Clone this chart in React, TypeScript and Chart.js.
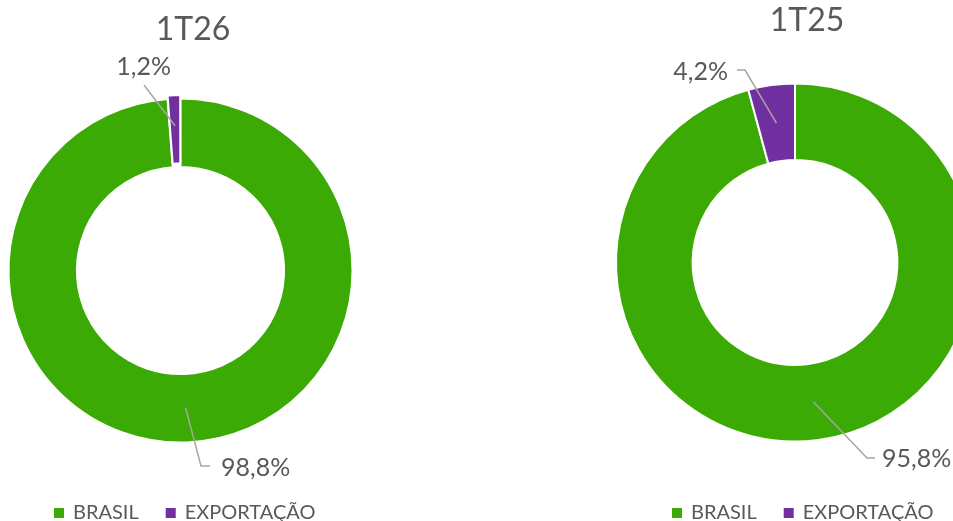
import React, { useEffect, useRef } from "react";
import { Chart, registerables } from "chart.js";

Chart.register(...registerables);

// ---- data ----
const categories = ["BRASIL", "EXPORTAÇÃO"];
const chartTitles = ["1T26", "1T25"];
const values1T26 = [98.8, 1.2];
const values1T25 = [95.8, 4.2];

// ---- styles ----
const COLORS = ["#3CAA04", "#7030A0"];
const TEXT = "#595959";
const LEADER = "#A6A6A6";
const FONT = "Lato, 'Open Sans', sans-serif";

type LabelLayout = {
  path: [number, number][];
  textX: number;
  textY: number;
  align: CanvasTextAlign;
};

type PanelCfg = {
  title: string;
  values: number[];
  left: number;
  width: number;
  padding: { left: number; right: number; top: number; bottom: number };
  radius: number;
  cutout: number;
  offsets: number[];
  titleX: number;
  titleY: number;
  labels: LabelLayout[];
  legendX: number;
  legendY: number;
};

const panels: PanelCfg[] = [
  {
    title: chartTitles[0],
    values: values1T26,
    left: 0,
    width: 380,
    padding: { left: 0, right: 19, top: 20, bottom: 0 },
    radius: 172,
    cutout: 106,
    offsets: [0, 7],
    titleX: 193,
    titleY: 40,
    labels: [
      { path: [[201, 466], [210, 466]], textX: 221, textY: 476, align: "left" },
      { path: [[144, 85]], textX: 171, textY: 75, align: "right" },
    ],
    legendX: 54,
    legendY: 519,
  },
  {
    title: chartTitles[1],
    values: values1T25,
    left: 600,
    width: 400,
    padding: { left: 0, right: 10, top: 4, bottom: 0 },
    radius: 179,
    cutout: 111,
    offsets: [0, 0],
    titleX: 207,
    titleY: 31,
    labels: [
      { path: [[267, 458], [275, 458]], textX: 282, textY: 467, align: "left" },
      { path: [[145, 70], [137, 70]], textX: 128, textY: 80, align: "right" },
    ],
    legendX: 72,
    legendY: 519,
  },
];

const fmt = (v: number) => v.toFixed(1).replace(".", ",") + "%";

function makeOverlay(cfg: PanelCfg) {
  return {
    id: "overlay_" + cfg.title,
    afterDraw(chart: any) {
      const ctx = chart.ctx as CanvasRenderingContext2D;
      ctx.save();
      ctx.fillStyle = TEXT;
      ctx.font = `32px ${FONT}`;
      ctx.textAlign = "center";
      ctx.textBaseline = "alphabetic";
      ctx.fillText(cfg.title, cfg.titleX, cfg.titleY);

      const meta = chart.getDatasetMeta(0);
      meta.data.forEach((arc: any, i: number) => {
        const p = arc.getProps(["x", "y", "startAngle", "endAngle", "innerRadius", "outerRadius"], true);
        const mid = (p.startAngle + p.endAngle) / 2;
        const r = (p.innerRadius + p.outerRadius) / 2 + (cfg.offsets[i] || 0);
        const sx = p.x + Math.cos(mid) * r;
        const sy = p.y + Math.sin(mid) * r;
        const lay = cfg.labels[i];
        ctx.strokeStyle = LEADER;
        ctx.lineWidth = 1.5;
        ctx.beginPath();
        ctx.moveTo(sx, sy);
        lay.path.forEach(([x, y]) => ctx.lineTo(x, y));
        ctx.stroke();
        ctx.fillStyle = TEXT;
        ctx.font = `25px ${FONT}`;
        ctx.textAlign = lay.align;
        ctx.textBaseline = "alphabetic";
        ctx.fillText(fmt(cfg.values[i]), lay.textX, lay.textY);
      });

      ctx.font = `20px ${FONT}`;
      ctx.textAlign = "left";
      let x = cfg.legendX;
      categories.forEach((c, i) => {
        ctx.fillStyle = COLORS[i];
        ctx.fillRect(x, cfg.legendY - 11, 10, 10);
        x += 19;
        ctx.fillStyle = TEXT;
        ctx.fillText(c, x, cfg.legendY);
        x += ctx.measureText(c).width + 27;
      });
      ctx.restore();
    },
  };
}

function Panel({ cfg }: { cfg: PanelCfg }) {
  const ref = useRef<HTMLCanvasElement | null>(null);
  useEffect(() => {
    if (!ref.current) return;
    const chart = new Chart(ref.current, {
      type: "doughnut",
      data: {
        labels: categories,
        datasets: [
          {
            data: cfg.values,
            backgroundColor: COLORS,
            borderColor: "#ffffff",
            borderWidth: 2,
            offset: cfg.offsets,
          } as any,
        ],
      },
      options: {
        responsive: false,
        animation: false,
        radius: cfg.radius,
        cutout: cfg.cutout,
        layout: { padding: cfg.padding },
        plugins: {
          legend: { display: false },
          title: { display: false },
          tooltip: { enabled: false },
        },
      } as any,
      plugins: [makeOverlay(cfg)],
    });
    return () => chart.destroy();
  }, [cfg]);
  return (
    <canvas
      ref={ref}
      width={cfg.width}
      height={521}
      style={{ position: "absolute", left: cfg.left, top: 0, width: cfg.width, height: 521 }}
    />
  );
}

export default function App() {
  return (
    <div
      style={{
        position: "fixed",
        left: 0,
        top: 0,
        width: 953,
        height: 521,
        overflow: "hidden",
        background: "#ffffff",
      }}
    >
      {panels.map((p) => (
        <Panel key={p.title} cfg={p} />
      ))}
    </div>
  );
}
